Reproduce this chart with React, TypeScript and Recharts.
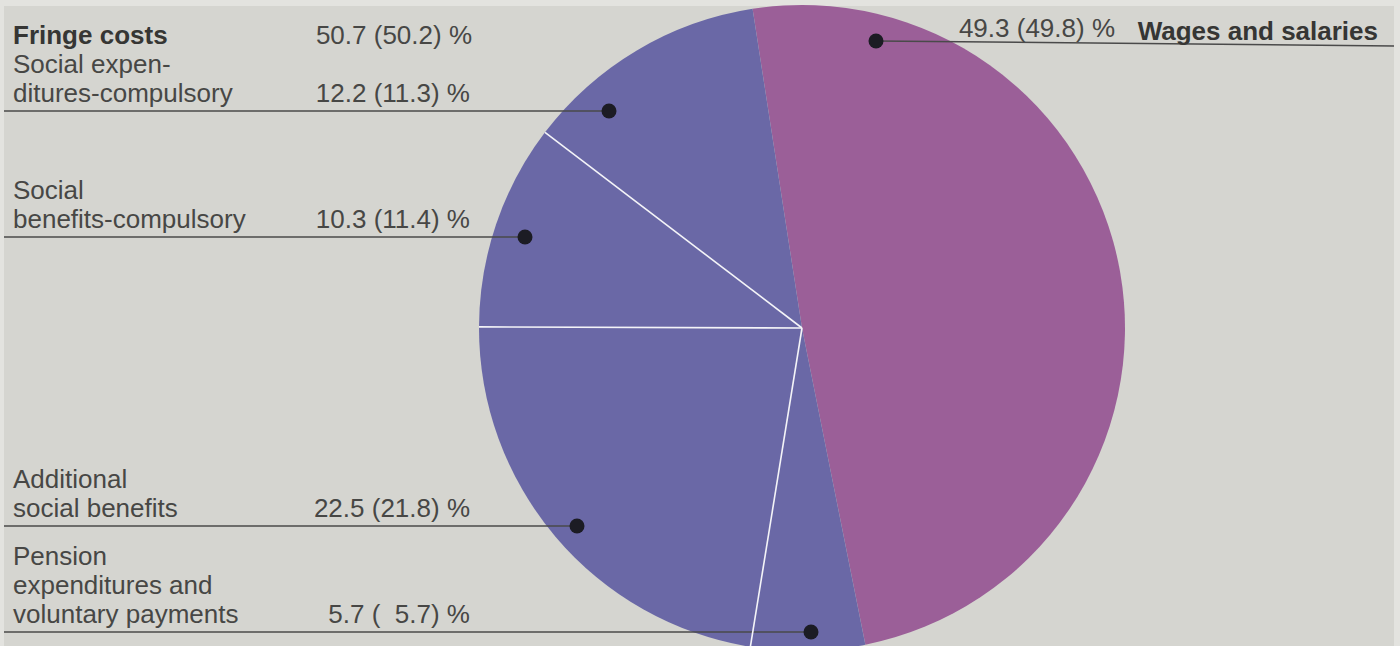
import React from 'react';
import { PieChart, Pie, Cell } from 'recharts';

// Labour cost structure, current share (previous year in brackets)
const SLICE_KEYS = ['wages', 'pension', 'additional', 'benefits', 'expenditures'];
const SLICE_LABELS: string[][] = [
  ['Wages and salaries'],
  ['Pension', 'expenditures and', 'voluntary payments'],
  ['Additional', 'social benefits'],
  ['Social', 'benefits-compulsory'],
  ['Social expen-', 'ditures-compulsory'],
];
const SHARE_NOW = [49.3, 5.7, 22.5, 10.3, 12.2];
const SHARE_PREV = [49.8, 5.7, 21.8, 11.4, 11.3];
const GROUP = ['wages', 'fringe', 'fringe', 'fringe', 'fringe'];
const FRINGE_TITLE = 'Fringe costs';

const COLORS: Record<string, string> = { wages: '#9b5f98', fringe: '#6a68a6' };

// leader line placement (baseline row y and dot x for each slice)
const LEADER_Y = [41, 632, 526, 237, 111];
const DOT_X = [876, 811, 577, 525, 609];
const WAGES_LINE_END = { x: 1394, y: 46 };

const FONT = '"Liberation Sans", Arial, Helvetica, sans-serif';
const TEXT = '#474745';
const TEXT_BOLD = '#363634';
const LINE_H = 29;
const VALUE_RIGHT = 470;

const data = SLICE_KEYS.map((key, i) => ({
  key,
  name: SLICE_LABELS[i].join(' '),
  value: SHARE_NOW[i],
  prev: SHARE_PREV[i],
  group: GROUP[i],
}));

const fmt = (v: number) => (v < 10 ? '\u2007' : '') + v.toFixed(1);
const shareText = (now: number, prev: number) => `${now.toFixed(1)} (${fmt(prev)}) %`;

const fringeNow = SHARE_NOW.reduce((s, v, i) => (GROUP[i] === 'fringe' ? s + v : s), 0);
const fringePrev = SHARE_PREV.reduce((s, v, i) => (GROUP[i] === 'fringe' ? s + v : s), 0);

const RAD = Math.PI / 180;

const SliceLabel = (props: any) => {
  const { cx, cy, outerRadius, startAngle, index, payload } = props;
  const d = payload?.payload ?? payload ?? data[index];
  const lineY = LEADER_Y[index];
  const dotX = DOT_X[index];
  const lines = SLICE_LABELS[index];

  // white separator between two neighbouring fringe slices
  const prevGroup = GROUP[(index - 1 + GROUP.length) % GROUP.length];
  const sep =
    GROUP[index] === 'fringe' && prevGroup === 'fringe' ? (
      <line
        x1={cx}
        y1={cy}
        x2={cx + Math.cos(-startAngle * RAD) * outerRadius}
        y2={cy + Math.sin(-startAngle * RAD) * outerRadius}
        stroke="#f4f4f8"
        strokeWidth={1.6}
      />
    ) : null;

  if (d.group === 'wages') {
    return (
      <g>
        {sep}
        <line x1={dotX} y1={lineY} x2={WAGES_LINE_END.x} y2={WAGES_LINE_END.y} stroke="#4a4a4a" strokeWidth={1.5} />
        <circle cx={dotX} cy={lineY} r={7.5} fill="#1c1c24" />
        <text x={1115} y={37} textAnchor="end" fontFamily={FONT} fontSize={26} fill={TEXT}>
          {shareText(d.value, d.prev)}
        </text>
        <text x={1378} y={40} textAnchor="end" fontFamily={FONT} fontSize={26} fontWeight="bold" fill={TEXT_BOLD}>
          {lines[0]}
        </text>
      </g>
    );
  }

  const firstBaseline = lineY - 9 - (lines.length - 1) * LINE_H;
  return (
    <g>
      {sep}
      <line x1={4} y1={lineY} x2={dotX} y2={lineY} stroke="#4a4a4a" strokeWidth={1.5} />
      <circle cx={dotX} cy={lineY} r={7.5} fill="#1c1c24" />
      {lines.map((t, k) => (
        <text key={k} x={13} y={firstBaseline + k * LINE_H} fontFamily={FONT} fontSize={26} fill={TEXT}>
          {t}
        </text>
      ))}
      <text x={VALUE_RIGHT} y={lineY - 9} textAnchor="end" fontFamily={FONT} fontSize={26} fill={TEXT}>
        {shareText(d.value, d.prev)}
      </text>
      {index === SLICE_KEYS.length - 1 && (
        <g>
          <text x={13} y={44} fontFamily={FONT} fontSize={26} fontWeight="bold" fill={TEXT_BOLD}>
            {FRINGE_TITLE}
          </text>
          <text x={VALUE_RIGHT + 2} y={44} textAnchor="end" fontFamily={FONT} fontSize={26} fill={TEXT}>
            {shareText(fringeNow, fringePrev)}
          </text>
        </g>
      )}
    </g>
  );
};

export default function App() {
  return (
    <div style={{ position: 'relative', width: 1400, height: 646, background: '#e3e3df', overflow: 'hidden' }}>
      <style>{'body{margin:0}'}</style>
      <div style={{ position: 'absolute', left: 4, top: 6, right: 6, bottom: 0, background: '#d5d5d0' }} />
      <div style={{ position: 'absolute', left: 0, top: 0 }}>
        <PieChart width={1400} height={646} margin={{ top: 0, right: 0, bottom: 0, left: 0 }}>
          <Pie
            data={data}
            dataKey="value"
            nameKey="name"
            cx={802}
            cy={328}
            outerRadius={323}
            startAngle={98.8}
            endAngle={-261.2}
            stroke="none"
            label={SliceLabel}
            labelLine={false}
            isAnimationActive={false}
          >
            {data.map((d) => (
              <Cell key={d.key} fill={COLORS[d.group]} stroke="none" />
            ))}
          </Pie>
        </PieChart>
      </div>
    </div>
  );
}
